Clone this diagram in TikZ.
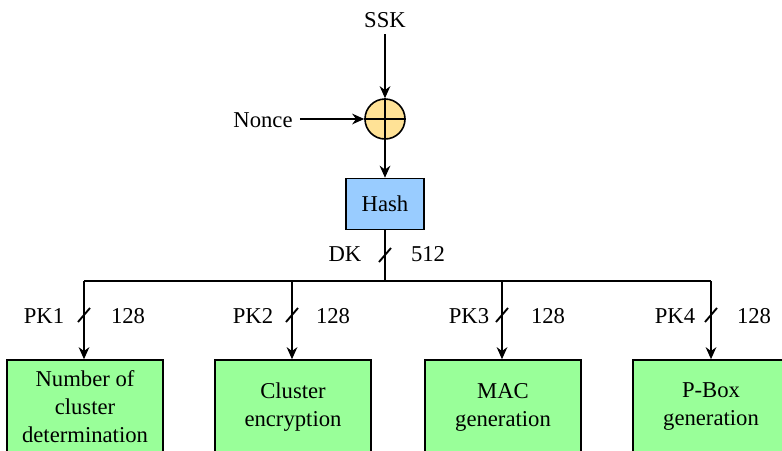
\documentclass[tikz,border=0pt]{standalone}
\usepackage{fontspec}
\setmainfont{Liberation Serif}
\usetikzlibrary{arrows.meta}

\definecolor{blucella}{RGB}{153,204,255}
\definecolor{verdino}{RGB}{153,255,153}
\definecolor{giallino}{RGB}{255,226,150}

\tikzset{
  freccia/.style={line width=1.4pt,-{Stealth[length=9pt,width=8pt]}},
  linea/.style={line width=1.4pt},
  blocco/.style={draw,line width=1.2pt,fill=verdino,minimum width=117pt,minimum height=70.5pt,align=center},
  etichetta/.style={inner sep=0pt}
}

\begin{document}
\begin{tikzpicture}[x=0.75pt,y=-0.75pt,font=\rmfamily\fontsize{17}{21}\selectfont]
        \useasboundingbox (0,0) rectangle (782,450);
        \clip (0,0) rectangle (782,450);

        % Ingressi e XOR
        \node[etichetta] (ssk) at (385,20) {SSK};
        \node[etichetta] (nonce) at (263,120) {Nonce};
        \node[draw,circle,line width=1.2pt,fill=giallino,minimum size=30pt,inner sep=0pt] (xor) at (385,119) {};
        \draw[line width=1.2pt] (xor.north) -- (xor.south) (xor.west) -- (xor.east); % Croce

        % Blocco hash
        \node[draw,line width=1.2pt,fill=blucella,minimum width=58.5pt,minimum height=38.25pt] (hash) at (385,204) {Hash};

        \draw[freccia] (ssk) ++(0,14) -- (xor.north);
        \draw[freccia] (nonce.east |- xor.west) ++(7,0) -- (xor.west);
        \draw[freccia] (xor.south) -- (hash.north);

        % Bus della chiave
        \coordinate (bus) at (385,281);
        \coordinate (k1) at (84,281);
        \coordinate (k2) at (292,281);
        \coordinate (k3) at (502,281);
        \coordinate (k4) at (711,281);
        \draw[linea] (hash.south) -- (bus);
        \draw[linea] (k1) -- (k4);

        % Blocchi finali
        \node[blocco] (b1) at (85,407) {Number of\\cluster\\determination};
        \node[blocco] (b2) at (293,407) {Cluster\\encryption};
        \node[blocco] (b3) at (503,407) {MAC\\generation};
        \node[blocco] (b4) at (711,407) {P-Box\\generation};

        \draw[freccia] (k1) -- (k1 |- b1.north);
        \draw[freccia] (k2) -- (k2 |- b2.north);
        \draw[freccia] (k3) -- (k3 |- b3.north);
        \draw[freccia] (k4) -- (k4 |- b4.north);

        % Tagli e larghezze
        \coordinate (t0) at (385,255);
        \coordinate (t1) at (84,315);
        \coordinate (t2) at (292,315);
        \coordinate (t3) at (502,315);
        \coordinate (t4) at (711,315);
        \draw[linea] (t0) ++(-6,7) -- ++(12,-14);
        \draw[linea] (t1) ++(-6,7) -- ++(12,-14);
        \draw[linea] (t2) ++(-6,7) -- ++(12,-14);
        \draw[linea] (t3) ++(-6,7) -- ++(12,-14);
        \draw[linea] (t4) ++(-6,7) -- ++(12,-14);

        \node[etichetta] (dk) at (345,254) {DK};
        \node[etichetta] (n0) at (428,254) {512};
        \node[etichetta] (pk1) at (44,316) {PK1};
        \node[etichetta] (n1) at (128,316) {128};
        \node[etichetta] (pk2) at (253,316) {PK2};
        \node[etichetta] (n2) at (333,316) {128};
        \node[etichetta] (pk3) at (469,316) {PK3};
        \node[etichetta] (n3) at (548,316) {128};
        \node[etichetta] (pk4) at (675,316) {PK4};
        \node[etichetta] (n4) at (754,316) {128};
    \end{tikzpicture}
\end{document}
